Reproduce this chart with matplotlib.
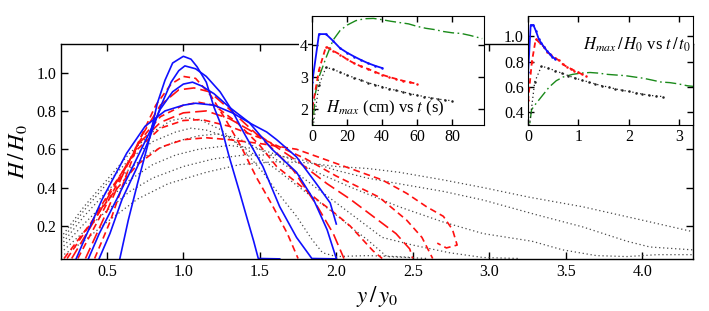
import matplotlib
matplotlib.use("Agg")
import matplotlib.pyplot as plt
from matplotlib.ticker import FormatStrFormatter

plt.rcParams['font.family'] = ['Liberation Serif', 'DejaVu Serif']
plt.rcParams['mathtext.fontset'] = 'stix'

# ---------------- main panel data: H/H0 vs y/y0 ----------------
blue1_x = [0.585, 0.64, 0.70, 0.77, 0.83, 0.88, 0.93, 1.0, 1.05, 1.09, 1.15, 1.2, 1.24, 1.30, 1.37, 1.42, 1.46, 1.49, 1.63]
blue1_y = [0.03, 0.23, 0.42, 0.63, 0.84, 0.96, 1.05, 1.085, 1.07, 1.03, 0.95, 0.82, 0.74, 0.56, 0.37, 0.23, 0.12, 0.03, 0.028]
blue2_x = [0.45, 0.52, 0.60, 0.70, 0.78, 0.85, 0.92, 0.97, 1.01, 1.08, 1.15, 1.24, 1.32, 1.40, 1.52, 1.63, 1.74, 1.84, 2.0]
blue2_y = [0.03, 0.16, 0.34, 0.51, 0.66, 0.82, 0.95, 1.01, 1.035, 1.02, 0.98, 0.90, 0.80, 0.68, 0.51, 0.30, 0.14, 0.03, 0.028]
blue3_x = [0.38, 0.45, 0.565, 0.67, 0.78, 0.85, 0.93, 1.0, 1.06, 1.12, 1.2, 1.30, 1.43, 1.58, 1.74, 1.85, 1.94, 2.0]
blue3_y = [0.03, 0.16, 0.34, 0.51, 0.69, 0.81, 0.90, 0.94, 0.95, 0.93, 0.89, 0.82, 0.74, 0.60, 0.48, 0.34, 0.18, 0.03]
blue4_x = [0.30, 0.37, 0.47, 0.63, 0.75, 0.88, 1.0, 1.08, 1.2, 1.32, 1.45, 1.545, 1.61, 1.74, 1.87, 1.96, 2.0]
blue4_y = [0.03, 0.16, 0.34, 0.58, 0.72, 0.80, 0.83, 0.84, 0.83, 0.79, 0.73, 0.69, 0.65, 0.56, 0.42, 0.32, 0.21]

red1_x = [0.42, 0.52, 0.62, 0.72, 0.82, 0.92, 1.0, 1.08, 1.18, 1.28, 1.38, 1.48, 1.58, 1.68, 1.75]
red1_y = [0.03, 0.22, 0.45, 0.66, 0.83, 0.94, 0.98, 0.97, 0.88, 0.75, 0.61, 0.45, 0.31, 0.16, 0.03]
red2_x = [0.36, 0.48, 0.60, 0.72, 0.85, 0.97, 1.07, 1.17, 1.30, 1.45, 1.60, 1.72, 1.87, 1.98, 2.05]
red2_y = [0.03, 0.24, 0.46, 0.66, 0.83, 0.91, 0.92, 0.90, 0.81, 0.70, 0.59, 0.49, 0.31, 0.16, 0.03]
red3_x = [0.31, 0.45, 0.60, 0.72, 0.85, 1.0, 1.1, 1.2, 1.35, 1.50, 1.61, 1.75, 1.87, 2.0, 2.09, 2.24, 2.30]
red3_y = [0.03, 0.24, 0.47, 0.65, 0.77, 0.83, 0.845, 0.83, 0.74, 0.62, 0.51, 0.42, 0.34, 0.26, 0.20, 0.07, 0.03]
red4_x = [0.27, 0.45, 0.60, 0.72, 0.85, 1.0, 1.15, 1.30, 1.50, 1.76, 1.94, 2.09, 2.24, 2.39, 2.48, 2.50]
red4_y = [0.03, 0.27, 0.48, 0.64, 0.74, 0.79, 0.80, 0.76, 0.67, 0.53, 0.42, 0.34, 0.25, 0.16, 0.08, 0.03]
red5_x = [0.24, 0.40, 0.55, 0.70, 0.85, 1.0, 1.12, 1.30, 1.50, 1.80, 2.00, 2.28, 2.46, 2.56, 2.63]
red5_y = [0.03, 0.22, 0.42, 0.60, 0.71, 0.75, 0.755, 0.72, 0.66, 0.55, 0.46, 0.35, 0.23, 0.14, 0.03]
red6_x = [0.22, 0.40, 0.55, 0.70, 0.85, 1.0, 1.15, 1.30, 1.50, 1.74, 2.02, 2.30, 2.46, 2.59, 2.70, 2.76, 2.79, 2.72, 2.66]
red6_y = [0.03, 0.22, 0.38, 0.52, 0.61, 0.65, 0.66, 0.65, 0.63, 0.60, 0.52, 0.44, 0.37, 0.30, 0.25, 0.18, 0.10, 0.085, 0.11]

blk1_x = [0.2, 0.35, 0.5, 0.65, 0.8, 0.92, 1.02, 1.12, 1.25, 1.39, 1.52, 1.63, 1.74, 1.84, 1.91, 2.0, 2.2, 2.4, 2.5]
blk1_y = [0.14, 0.30, 0.44, 0.58, 0.69, 0.75, 0.765, 0.75, 0.70, 0.60, 0.48, 0.36, 0.25, 0.13, 0.06, 0.04, 0.045, 0.04, 0.035]
blk2_x = [0.2, 0.35, 0.5, 0.65, 0.8, 0.95, 1.05, 1.15, 1.3, 1.45, 1.6, 1.76, 1.98, 2.1, 2.2, 2.33, 2.6]
blk2_y = [0.12, 0.28, 0.42, 0.55, 0.64, 0.69, 0.71, 0.70, 0.66, 0.58, 0.50, 0.40, 0.27, 0.19, 0.13, 0.04, 0.03]
blk3_x = [0.2, 0.35, 0.5, 0.65, 0.8, 0.95, 1.1, 1.22, 1.35, 1.5, 1.7, 1.9, 2.1, 2.3, 2.5, 2.74, 2.96, 3.2]
blk3_y = [0.10, 0.25, 0.38, 0.50, 0.59, 0.64, 0.67, 0.68, 0.66, 0.60, 0.50, 0.38, 0.26, 0.14, 0.10, 0.06, 0.035, 0.03]
blk4_x = [0.2, 0.35, 0.5, 0.65, 0.8, 0.95, 1.1, 1.3, 1.5, 1.7, 1.9, 2.1, 2.41, 2.7, 2.96, 3.28, 3.48, 3.7, 3.9, 4.1, 4.33]
blk4_y = [0.08, 0.21, 0.33, 0.44, 0.52, 0.57, 0.60, 0.62, 0.60, 0.55, 0.47, 0.40, 0.30, 0.22, 0.16, 0.12, 0.075, 0.045, 0.04, 0.05, 0.05]
blk5_x = [0.2, 0.35, 0.5, 0.65, 0.8, 1.0, 1.2, 1.4, 1.6, 1.8, 2.0, 2.2, 2.41, 2.7, 2.96, 3.3, 3.61, 3.9, 4.05, 4.33]
blk5_y = [0.06, 0.17, 0.28, 0.38, 0.45, 0.51, 0.55, 0.57, 0.57, 0.54, 0.49, 0.45, 0.42, 0.38, 0.335, 0.26, 0.195, 0.12, 0.09, 0.075]
blk6_x = [0.2, 0.35, 0.5, 0.7, 0.9, 1.15, 1.37, 1.6, 1.8, 2.0, 2.2, 2.41, 2.7, 2.96, 3.26, 3.61, 4.0, 4.33]
blk6_y = [0.04, 0.12, 0.22, 0.34, 0.42, 0.48, 0.52, 0.535, 0.53, 0.51, 0.50, 0.48, 0.44, 0.40, 0.35, 0.30, 0.23, 0.17]

main_xticks = [0.5, 1.0, 1.5, 2.0, 2.5, 3.0, 3.5, 4.0]
main_yticks = [0.2, 0.4, 0.6, 0.8, 1.0]

# ---------------- inset 1: Hmax (cm) vs t (s) ----------------
in1_blue_t = [0, 0.2, 4, 8, 12, 16, 20, 24, 28, 32, 36, 40]
in1_blue_h = [1.2, 2.85, 4.34, 4.34, 4.13, 3.90, 3.76, 3.64, 3.53, 3.43, 3.35, 3.28]
in1_red_t = [0, 0.2, 4, 8, 12, 16, 20, 24, 28, 32, 36, 40, 44, 48, 52, 56, 60]
in1_red_h = [1.2, 2.03, 3.22, 3.95, 3.82, 3.70, 3.55, 3.43, 3.33, 3.25, 3.16, 3.07, 3.00, 2.94, 2.88, 2.83, 2.79]
in1_blk_t = [0, 4, 8, 12, 16, 20, 24, 28, 32, 36, 40, 44, 48, 52, 56, 60, 64, 68, 72, 76, 80]
in1_blk_h = [1.2, 2.75, 3.30, 3.24, 3.15, 3.06, 2.98, 2.90, 2.82, 2.76, 2.70, 2.64, 2.58, 2.53, 2.48, 2.43, 2.39, 2.35, 2.31, 2.28, 2.26]
in1_grn_t = [0, 2, 4, 8, 12, 16, 20, 25, 30, 35, 40, 45, 50, 55, 60, 65, 70, 75, 80, 85, 90, 97]
in1_grn_h = [1.2, 2.5, 3.0, 3.6, 4.15, 4.45, 4.62, 4.76, 4.82, 4.83, 4.79, 4.74, 4.70, 4.66, 4.58, 4.52, 4.48, 4.42, 4.38, 4.36, 4.30, 4.20]
in1_xticks = [0, 20, 40, 60, 80]
in1_yticks = [2, 3, 4]

# ---------------- inset 2: Hmax/H0 vs t/t0 ----------------
in2_blue_x = [0, 0.003, 0.053, 0.107, 0.16, 0.213, 0.267, 0.32, 0.373, 0.427, 0.48, 0.533]
in2_blue_y = [0.2, 0.72, 1.09, 1.09, 1.04, 0.98, 0.945, 0.915, 0.887, 0.862, 0.84, 0.824]
in2_red_x = [0, 0.004, 0.077, 0.154, 0.23, 0.31, 0.385, 0.46, 0.54, 0.615, 0.69, 0.77, 0.846, 0.92, 1.0, 1.077, 1.154]
in2_red_y = [0.2, 0.50, 0.80, 0.98, 0.95, 0.92, 0.88, 0.85, 0.83, 0.81, 0.78, 0.76, 0.745, 0.73, 0.715, 0.70, 0.69]
in2_blk_x = [0, 0.133, 0.267, 0.40, 0.533, 0.667, 0.80, 0.933, 1.067, 1.20, 1.333, 1.467, 1.60, 1.733, 1.867, 2.0, 2.133, 2.267, 2.40, 2.533, 2.667]
in2_blk_y = [0.2, 0.64, 0.765, 0.75, 0.73, 0.71, 0.69, 0.67, 0.655, 0.64, 0.625, 0.61, 0.60, 0.585, 0.575, 0.565, 0.555, 0.545, 0.535, 0.53, 0.525]
in2_grn_x = [0, 0.07, 0.14, 0.28, 0.42, 0.56, 0.70, 0.88, 1.05, 1.23, 1.40, 1.58, 1.75, 1.93, 2.10, 2.28, 2.46, 2.63, 2.81, 2.98, 3.16, 3.40]
in2_grn_y = [0.2, 0.42, 0.46, 0.53, 0.60, 0.65, 0.68, 0.70, 0.71, 0.715, 0.71, 0.70, 0.695, 0.69, 0.68, 0.67, 0.655, 0.64, 0.635, 0.625, 0.61, 0.60]
in2_xticks = [0, 1, 2, 3]
in2_yticks = [0.4, 0.6, 0.8, 1.0]

BLUE = '#1010ff'
RED = '#ff1010'
BLACK = '#222222'
GRAY = '#4a4a4a'
GREEN = '#1a8a1a'
DOTS = (0, (1, 2.2))

fig = plt.figure(figsize=(7.09, 3.11), dpi=100)
ax = fig.add_axes([0.086, 0.167, 0.891, 0.692])

for xs, ys in [(blk1_x, blk1_y), (blk2_x, blk2_y), (blk3_x, blk3_y),
               (blk4_x, blk4_y), (blk5_x, blk5_y), (blk6_x, blk6_y)]:
    ax.plot(xs, ys, color=GRAY, lw=0.9, linestyle=DOTS)
red_styles = [(0, (4, 2.5)), (0, (7, 3)), (0, (4, 2.5)), (0, (7, 3)), (0, (4, 2.5)), (0, (4, 2.5))]
for (xs, ys), ls in zip([(red1_x, red1_y), (red2_x, red2_y), (red3_x, red3_y),
                         (red4_x, red4_y), (red5_x, red5_y), (red6_x, red6_y)], red_styles):
    ax.plot(xs, ys, color=RED, lw=1.2, linestyle=ls)
for xs, ys in [(blue1_x, blue1_y), (blue2_x, blue2_y), (blue3_x, blue3_y), (blue4_x, blue4_y)]:
    ax.plot(xs, ys, color=BLUE, lw=1.2)

ax.set_xlim(0.2, 4.33)
ax.set_ylim(0.027, 1.15)
ax.set_xticks(main_xticks)
ax.set_yticks(main_yticks)
ax.xaxis.set_major_formatter(FormatStrFormatter('%.1f'))
ax.yaxis.set_major_formatter(FormatStrFormatter('%.1f'))
ax.tick_params(direction='in', top=True, right=True, labelsize=11.5, length=5, width=1)
for s in ax.spines.values():
    s.set_linewidth(1.0)
ax.set_xlabel(r'$y\,/\,y_0$', fontsize=16.5, labelpad=3)
ax.set_ylabel(r'$H\,/\,H_0$', fontsize=16.5, labelpad=5)

# inset 1
ax1 = fig.add_axes([0.440, 0.598, 0.2426, 0.350])
ax1.plot(in1_grn_t, in1_grn_h, color=GREEN, lw=1.0, linestyle=(0, (8, 2.5, 1.2, 2.5)))
ax1.plot(in1_blk_t, in1_blk_h, color=BLACK, lw=0.9, linestyle=DOTS, marker='o', ms=1.8, mew=0)
ax1.plot(in1_red_t, in1_red_h, color=RED, lw=1.3, linestyle=(0, (3, 2)), marker='o', ms=1.8, mew=0)
ax1.plot(in1_blue_t, in1_blue_h, color=BLUE, lw=1.3, marker='o', ms=1.8, mew=0)
ax1.set_xlim(0, 98)
ax1.set_ylim(1.5, 4.9)
ax1.set_xticks(in1_xticks)
ax1.set_yticks(in1_yticks)
ax1.tick_params(direction='in', top=True, right=True, labelsize=11.5, length=4, width=1, pad=3)
for lab in ax1.get_yticklabels():
    lab.set_bbox(dict(facecolor='white', edgecolor='none', pad=0.5))
ax1.text(0.08, 0.06, r'$H_{max}$ (cm) vs $t$ (s)', transform=ax1.transAxes,
         fontsize=12, ha='left', va='bottom')

# inset 2
ax2 = fig.add_axes([0.7447, 0.598, 0.2327, 0.350])
ax2.plot(in2_grn_x, in2_grn_y, color=GREEN, lw=1.0, linestyle=(0, (8, 2.5, 1.2, 2.5)))
ax2.plot(in2_blk_x, in2_blk_y, color=BLACK, lw=0.9, linestyle=DOTS, marker='o', ms=1.8, mew=0)
ax2.plot(in2_red_x, in2_red_y, color=RED, lw=1.3, linestyle=(0, (3, 2)), marker='o', ms=1.8, mew=0)
ax2.plot(in2_blue_x, in2_blue_y, color=BLUE, lw=1.3, marker='o', ms=1.8, mew=0)
ax2.set_xlim(0, 3.27)
ax2.set_ylim(0.3, 1.16)
ax2.set_xticks(in2_xticks)
ax2.set_yticks(in2_yticks)
ax2.yaxis.set_major_formatter(FormatStrFormatter('%.1f'))
ax2.tick_params(direction='in', top=True, right=True, labelsize=11.5, length=4, width=1, pad=3)
ax2.text(0.99, 0.74, r'$H_{max}\,/\,H_0$ vs $t\,/\,t_0$', transform=ax2.transAxes,
         fontsize=12, ha='right', va='center')

fig.savefig('out.png', dpi=100)
